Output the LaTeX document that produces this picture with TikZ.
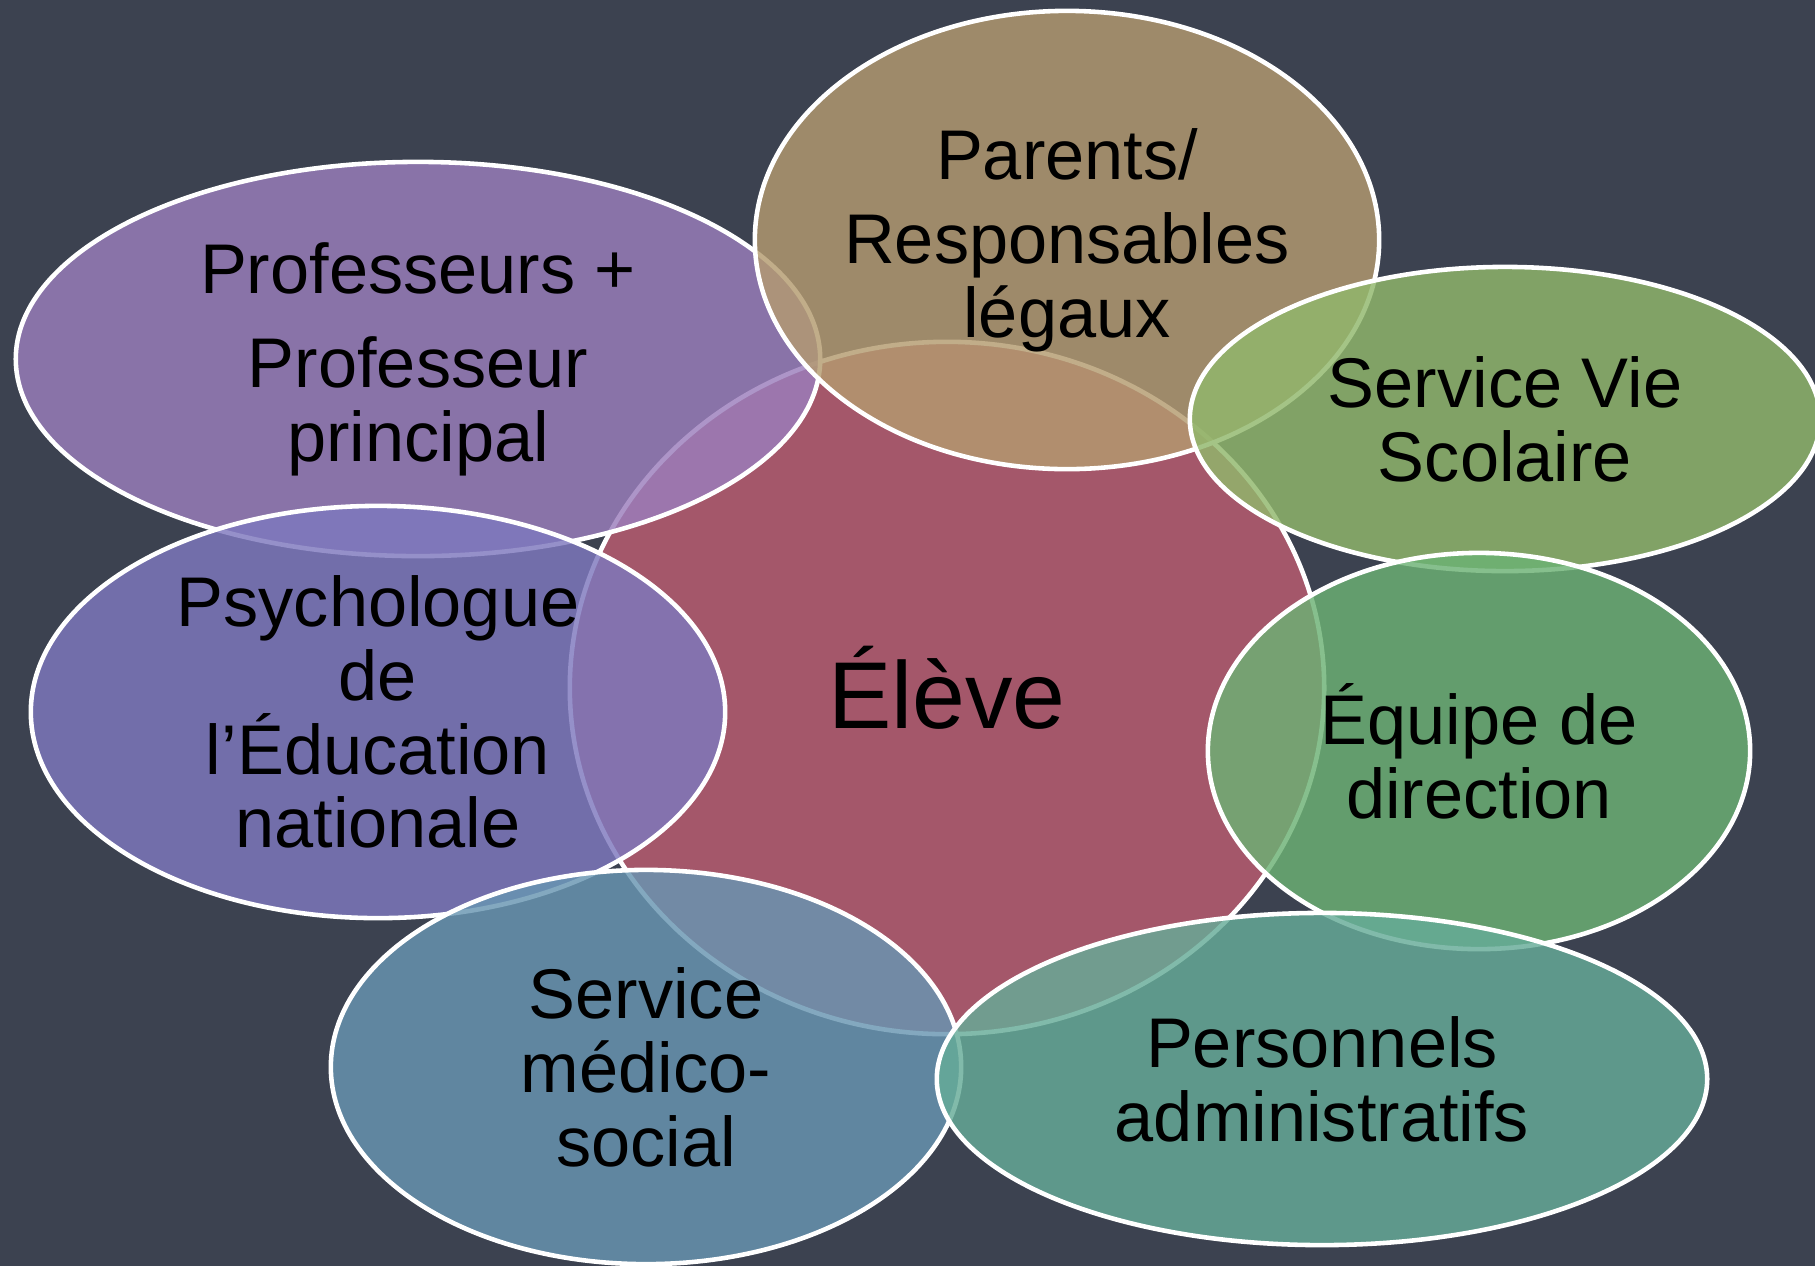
\documentclass[tikz,border=0pt]{standalone}
\usepackage{fontspec}
\setmainfont{Liberation Sans}
\usepackage{tikz}
\usetikzlibrary{shapes.geometric}
\usetikzlibrary{positioning, calc}
\definecolor{board}{RGB}{60,66,80}
\definecolor{eleveC}{RGB}{188,92,112}
\definecolor{parentC}{RGB}{180,155,112}
\definecolor{profC}{RGB}{155,126,188}
\definecolor{vieC}{RGB}{145,184,108}
\definecolor{psyC}{RGB}{126,120,190}
\definecolor{equipeC}{RGB}{108,178,116}
\definecolor{medicoC}{RGB}{104,150,178}
\definecolor{persoC}{RGB}{102,172,152}
\tikzstyle{bubble} = [ellipse,draw=white,line width=1.3pt,inner sep=0pt,fill opacity=0.82]
\tikzstyle{txt} = [align=center,text=black,font=\fontsize{20}{21}\selectfont]

\begin{document}
\begin{tikzpicture}[x=0.01cm,y=-0.01cm]
  \fill[board] (0,0) rectangle (1815,1266);
  \useasboundingbox (0,0) rectangle (1815,1266);

  % the circles, centre first
  \node[bubble, fill=eleveC, minimum width=7.54cm, minimum height=6.92cm] (eleve) at (947,688) {};
  \node[bubble, fill=profC, minimum width=8.04cm, minimum height=3.94cm] (prof) at (418,359) {};
  \node[bubble, fill=parentC, minimum width=6.24cm, minimum height=4.58cm] (parents) at (1067,240) {};
  \node[bubble, fill=vieC, minimum width=6.30cm, minimum height=3.04cm] (vie) at (1505,419) {};
  \node[bubble, fill=psyC, minimum width=6.94cm, minimum height=4.12cm] (psy) at (378,712) {};
  \node[bubble, fill=equipeC, minimum width=5.42cm, minimum height=3.96cm] (equipe) at (1479,751) {};
  \node[bubble, fill=medicoC, minimum width=6.30cm, minimum height=3.94cm] (medico) at (646,1067) {};
  \node[bubble, fill=persoC, minimum width=7.70cm, minimum height=3.32cm] (perso) at (1322,1079) {};

  % now the texts
  \node[txt, font=\fontsize{27}{30}\selectfont] (eleveT) at (eleve) {Élève};
  \node[txt] (profT) at (prof) {Professeurs +\\[0.2cm] Professeur\\ principal};
  \node[txt] (parentsT) at (parents) {Parents/\\[0.1cm] Responsables\\ légaux};
  \node[txt] (vieT) at (vie) {Service Vie\\ Scolaire};
  \node[txt] (psyT) at (psy) {Psychologue\\ de\\ l’Éducation\\ nationale};
  \node[txt] (equipeT) at (equipe) {Équipe de\\ direction};
  \node[txt] (medicoT) at (medico) {Service\\ médico-\\ social};
  \node[txt] (persoT) at (perso) {Personnels\\ administratifs};
\end{tikzpicture}
\end{document}
